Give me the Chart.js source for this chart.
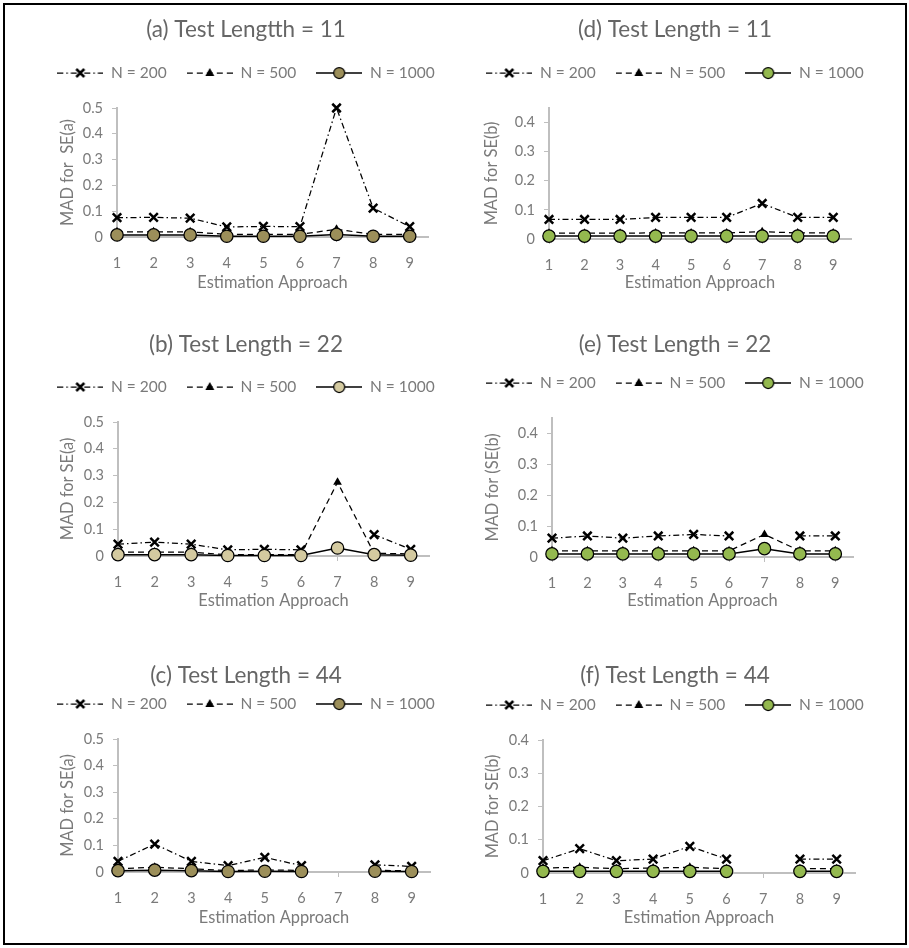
<!DOCTYPE html>
<html>
<head>
<meta charset="utf-8">
<script src="https://cdn.jsdelivr.net/npm/chart.js@4.4.0/dist/chart.umd.min.js"></script>
<style>
  html, body { margin: 0; padding: 0; background: #fff; }
  #page { position: relative; width: 909px; height: 948px; overflow: hidden; }
  #frame { position: absolute; left: 3px; top: 3px; width: 904px; height: 942px; box-sizing: border-box; border: 2px solid #000; }
  canvas { position: absolute; }
</style>
</head>
<body>
<div id="page"><div id="frame"></div></div>
<script>
// data
var approaches = [1, 2, 3, 4, 5, 6, 7, 8, 9];
var seriesNames = ["N = 200", "N = 500", "N = 1000"];
var yTicksHalf = [0, 0.1, 0.2, 0.3, 0.4, 0.5];
var yTicksFour = [0, 0.1, 0.2, 0.3, 0.4];

// (a) SE(a), test length 11
var a200 = [0.075, 0.076, 0.073, 0.039, 0.041, 0.040, 0.500, 0.112, 0.040];
var a500 = [0.020, 0.020, 0.020, 0.010, 0.010, 0.010, 0.030, 0.010, 0.010];
var a1000 = [0.008, 0.008, 0.008, 0.003, 0.003, 0.003, 0.010, 0.003, 0.003];
// (b) SE(a), test length 22
var b200 = [0.044, 0.052, 0.044, 0.023, 0.025, 0.023, null, 0.080, 0.025];
var b500 = [0.014, 0.015, 0.014, 0.005, 0.005, 0.005, 0.275, 0.010, 0.008];
var b1000 = [0.005, 0.005, 0.005, 0.002, 0.002, 0.002, 0.030, 0.005, 0.003];
// (c) SE(a), test length 44
var c200 = [0.040, 0.105, 0.040, 0.024, 0.055, 0.024, null, 0.027, 0.021];
var c500 = [0.012, 0.018, 0.012, 0.005, 0.008, 0.006, null, 0.006, 0.005];
var c1000 = [0.005, 0.007, 0.005, 0.002, 0.003, 0.002, null, 0.003, 0.002];
// (d) SE(b), test length 11
var d200 = [0.067, 0.067, 0.067, 0.074, 0.074, 0.074, 0.122, 0.074, 0.074];
var d500 = [0.020, 0.020, 0.020, 0.021, 0.021, 0.021, 0.025, 0.021, 0.021];
var d1000 = [0.010, 0.010, 0.010, 0.010, 0.010, 0.010, 0.010, 0.010, 0.010];
// (e) SE(b), test length 22
var e200 = [0.061, 0.068, 0.061, 0.068, 0.073, 0.068, null, 0.068, 0.068];
var e500 = [0.020, 0.020, 0.020, 0.020, 0.020, 0.020, 0.073, 0.020, 0.020];
var e1000 = [0.010, 0.010, 0.010, 0.010, 0.010, 0.010, 0.027, 0.010, 0.010];
// (f) SE(b), test length 44
var f200 = [0.037, 0.073, 0.037, 0.042, 0.080, 0.042, null, 0.042, 0.042];
var f500 = [0.015, 0.017, 0.013, 0.015, 0.017, 0.013, null, 0.013, 0.013];
var f1000 = [0.005, 0.005, 0.005, 0.005, 0.005, 0.005, null, 0.005, 0.005];

var TITLE_SIZE = 22.5;
var LEGEND_SIZE = 15.5;
var LEGEND_GAP = 20;
var TICK_SIZE = 14.5;
var AXIS_SIZE = 16.4;
var AXIS_LH = AXIS_SIZE * 1.2;
var TITLE_COLOR = "#666666";
var TEXT_COLOR = "#7a7a7a";
var AXIS_COLOR = "#bfbfbf";
var OLIVE = "#9c8f5a";
var SAND = "#d4caa0";
var GREEN = "#94b94f";

Chart.defaults.font.family = "Lato, 'Open Sans', sans-serif";

// legend swatch: a short line with the marker in the middle
function makeSwatch(kind, fill, dash, width) {
    var c = document.createElement("canvas");
    c.width = 46;
    c.height = 16;
    var g = c.getContext("2d");
    g.strokeStyle = "#000";
    g.lineWidth = width;
    g.setLineDash(dash);
    g.beginPath();
    g.moveTo(0, 8);
    g.lineTo(46, 8);
    g.stroke();
    g.setLineDash([]);
    if (kind === "x") {
        g.lineWidth = 2.5;
        g.beginPath();
        g.moveTo(19, 4); g.lineTo(27, 12);
        g.moveTo(27, 4); g.lineTo(19, 12);
        g.stroke();
    } else if (kind === "tri") {
        g.fillStyle = "#000";
        g.beginPath();
        g.moveTo(23, 3); g.lineTo(27.5, 11); g.lineTo(18.5, 11);
        g.closePath();
        g.fill();
    } else {
        g.fillStyle = fill;
        g.lineWidth = 1.25;
        g.beginPath();
        g.arc(23, 8, 5.5, 0, Math.PI * 2);
        g.fill();
        g.stroke();
    }
    return c;
}

function points(vals) {
    return approaches.map(function (a, i) { return { x: a, y: vals[i] }; });
}

var page = document.getElementById("page");

function drawPanel(p) {
    var x0 = p.box[0], y0 = p.box[1], w = p.box[2];
    var h = p.xTitleY + 13 - y0;
    var canvas = document.createElement("canvas");
    canvas.width = w;
    canvas.height = h;
    canvas.style.left = x0 + "px";
    canvas.style.top = y0 + "px";
    page.appendChild(canvas);

    // legend box = gap + one row + 10px that Chart.js adds underneath
    var legTop = p.legendY - LEGEND_SIZE / 2 - LEGEND_GAP;
    var legBottom = p.legendY + LEGEND_SIZE / 2 + 10;
    var titlePadTop = p.titleY - y0 - TITLE_SIZE / 2;
    var titlePadBottom = legTop - (p.titleY + TITLE_SIZE / 2);
    var topGap = p.plotTop - legBottom;
    var yBoxW = p.axisX - x0;
    var rightW = x0 + w - p.axisRight;
    var xBoxH = y0 + h - p.axisY;

    new Chart(canvas, {
        type: "line",
        data: {
            datasets: [{
                label: seriesNames[0],
                data: points(p.series[0]),
                borderColor: "#000",
                borderWidth: 1.25,
                borderDash: [6, 3, 1.5, 3],
                pointStyle: "crossRot",
                pointRadius: 6,
                pointBorderWidth: 2.5,
                pointBorderColor: "#000",
                pointBackgroundColor: "#000",
                order: 3,
                clip: false,
                swatch: makeSwatch("x", "#000", [6, 3, 1.5, 3], 1.25),
            },
            {
                label: seriesNames[1],
                data: points(p.series[1]),
                borderColor: "#000",
                borderWidth: 1.25,
                borderDash: [6, 4],
                pointStyle: "triangle",
                pointRadius: 5,
                pointBorderWidth: 0,
                pointBackgroundColor: "#000",
                order: 2,
                clip: false,
                swatch: makeSwatch("tri", "#000", [6, 4], 1.25),
            },
            {
                label: seriesNames[2],
                data: points(p.series[2]),
                borderColor: "#000",
                borderWidth: 1.5,
                pointStyle: "circle",
                pointRadius: 6.2,
                pointBorderWidth: 1.25,
                pointBorderColor: "#000",
                pointBackgroundColor: p.marker,
                order: 1,
                clip: false,
                swatch: makeSwatch("circle", p.marker, [], 1.5),
            },
            ],
        },
        options: {
            responsive: false,
            animation: false,
            events: [],
            layout: { padding: 0 },
            plugins: {
                title: {
                    display: true,
                    text: p.title,
                    color: TITLE_COLOR,
                    font: { size: TITLE_SIZE, weight: "normal", lineHeight: 1 },
                    padding: { top: titlePadTop, bottom: titlePadBottom },
                },
                legend: {
                    display: true,
                    labels: {
                        usePointStyle: true,
                        pointStyleWidth: 46,
                        padding: LEGEND_GAP,
                        color: TEXT_COLOR,
                        font: { size: LEGEND_SIZE },
                        generateLabels: function (chart) {
                            return chart.data.datasets.map(function (ds, i) {
                                return {
                                    text: ds.label,
                                    pointStyle: ds.swatch,
                                    fillStyle: "transparent",
                                    strokeStyle: "transparent",
                                    lineWidth: 0,
                                    hidden: false,
                                    datasetIndex: i,
                                    fontColor: TEXT_COLOR,
                                };
                            });
                        },
                    },
                },
                tooltip: { enabled: false },
            },
            scales: {
                x: {
                    type: "linear",
                    min: 1,
                    max: 9.5,
                    afterBuildTicks: function (s) {
                        s.ticks = approaches.map(function (v) { return { value: v }; });
                    },
                    afterFit: function (s) { s.height = xBoxH; },
                    ticks: { color: TEXT_COLOR, font: { size: TICK_SIZE }, padding: 13 },
                    grid: { display: true, drawOnChartArea: false, tickLength: 5, color: AXIS_COLOR },
                    border: { color: AXIS_COLOR, width: 2 },
                    title: {
                        display: true,
                        text: "Estimation Approach",
                        color: TEXT_COLOR,
                        font: { size: AXIS_SIZE, lineHeight: 1.2 },
                        padding: { top: 0, bottom: y0 + h - p.xTitleY - AXIS_LH / 2 },
                    },
                },
                y: {
                    type: "linear",
                    min: 0,
                    max: p.yMax,
                    afterBuildTicks: function (s) {
                        s.ticks = p.yTicks.map(function (v) { return { value: v }; });
                    },
                    afterFit: function (s) { s.width = yBoxW; },
                    ticks: {
                        color: TEXT_COLOR,
                        font: { size: TICK_SIZE },
                        padding: 9,
                        callback: function (v) { return v === 0 ? "0" : v.toFixed(1); },
                    },
                    grid: { display: true, drawOnChartArea: false, tickLength: 5, color: AXIS_COLOR },
                    border: { color: AXIS_COLOR, width: 2 },
                    title: {
                        display: true,
                        text: p.yTitle,
                        color: TEXT_COLOR,
                        font: { size: AXIS_SIZE, lineHeight: 1.2 },
                        padding: { top: p.yTitleX - x0 - AXIS_LH / 2, bottom: 0 },
                    },
                },
                // empty strips that hold the plot away from legend and right edge
                spacerRight: {
                    type: "linear",
                    position: "right",
                    display: true,
                    afterFit: function (s) { s.width = rightW; },
                    ticks: { display: false },
                    grid: { display: false },
                    border: { display: false },
                },
                spacerTop: {
                    type: "linear",
                    position: "top",
                    display: true,
                    afterFit: function (s) { s.height = topGap; },
                    ticks: { display: false },
                    grid: { display: false },
                    border: { display: false },
                },
            },
        },
    });
}

var panels = [
    { title: "(a) Test Lengtth = 11", yTitle: "MAD for  SE(a)", series: [a200, a500, a1000], marker: OLIVE,
      yMax: 0.5, yTicks: yTicksHalf, box: [0, 0, 492],
      titleY: 30, legendY: 73, plotTop: 108, axisY: 237, axisX: 117, axisRight: 428, yTitleX: 68, xTitleY: 283 },
    { title: "(b) Test Length = 22", yTitle: "MAD for SE(a)", series: [b200, b500, b1000], marker: SAND,
      yMax: 0.5, yTicks: yTicksHalf, box: [0, 318, 492],
      titleY: 345, legendY: 387, plotTop: 422, axisY: 556, axisX: 118, axisRight: 429, yTitleX: 68, xTitleY: 601 },
    { title: "(c) Test Length = 44", yTitle: "MAD for SE(a)", series: [c200, c500, c1000], marker: OLIVE,
      yMax: 0.5, yTicks: yTicksHalf, box: [0, 640, 492],
      titleY: 676, legendY: 704, plotTop: 739, axisY: 872, axisX: 118, axisRight: 430, yTitleX: 68, xTitleY: 918 },
    { title: "(d) Test Length = 11", yTitle: "MAD for SE(b)", series: [d200, d500, d1000], marker: GREEN,
      yMax: 0.45, yTicks: yTicksFour, box: [454, 0, 442],
      titleY: 30, legendY: 73, plotTop: 108, axisY: 239, axisX: 549, axisRight: 851, yTitleX: 492, xTitleY: 283 },
    { title: "(e) Test Length = 22", yTitle: "MAD for (SE(b)", series: [e200, e500, e1000], marker: GREEN,
      yMax: 0.45, yTicks: yTicksFour, box: [454, 318, 442],
      titleY: 345, legendY: 383, plotTop: 418, axisY: 557, axisX: 552, axisRight: 853, yTitleX: 493, xTitleY: 601 },
    { title: "(f) Test Length = 44", yTitle: "MAD for SE(b)", series: [f200, f500, f1000], marker: GREEN,
      yMax: 0.4, yTicks: yTicksFour, box: [454, 640, 442],
      titleY: 676, legendY: 705, plotTop: 740, axisY: 873, axisX: 543, axisRight: 855, yTitleX: 493, xTitleY: 918 },
];

panels.forEach(drawPanel);
</script>
</body>
</html>
